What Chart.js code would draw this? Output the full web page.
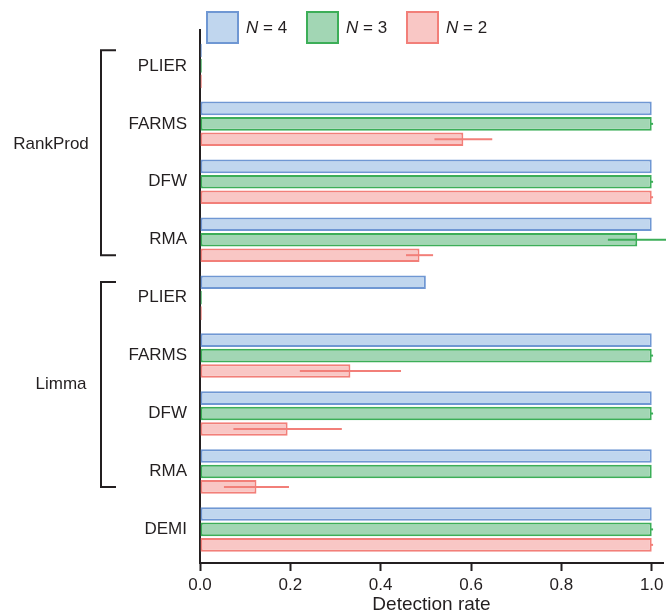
<!DOCTYPE html>
<html>
<head>
<meta charset="utf-8">
<script src="https://cdn.jsdelivr.net/npm/chart.js@4/dist/chart.umd.min.js"></script>
<style>
  html, body { margin: 0; padding: 0; background: #fff; }
  #wrap { width: 666px; height: 615px; position: relative; }
</style>
</head>
<body>
<div id="wrap"><canvas id="c"></canvas></div>
<script>
// categories, top to bottom
const methods = ['PLIER', 'FARMS', 'DFW', 'RMA', 'PLIER', 'FARMS', 'DFW', 'RMA', 'DEMI'];
const groups = [
  { name: 'RankProd', first: 0, last: 3 },
  { name: 'Limma', first: 4, last: 7 }
];
const seriesNames = ['4', '3', '2']; // N =

// detection rate per method
const n4 = [0.004, 1, 1, 1, 0.5, 1, 1, 1, 1];
const n3 = [0.004, 1, 1, 0.968, 0.004, 1, 1, 1, 1];
const n2 = [0.004, 0.583, 1, 0.486, 0.004, 0.333, 0.194, 0.125, 1];
// error (half width)
const n4Err = [0, 0, 0, 0, 0, 0, 0, 0, 0];
const n3Err = [0, 0.003, 0.003, 0.065, 0, 0.003, 0.003, 0, 0.003];
const n2Err = [0, 0.064, 0.003, 0.03, 0, 0.112, 0.12, 0.072, 0.003];

const xTicks = [0, 0.2, 0.4, 0.6, 0.8, 1.0];

const fills = ['#c0d6ee', '#a2d6b4', '#f9c7c5'];
const edges = ['#6f97d3', '#3cae58', '#f27f79'];
const FONT = '"Liberation Sans", Arial, Helvetica, sans-serif';
const INK = '#231f20';

const errs = [n4Err, n3Err, n2Err];

const errorBars = {
  id: 'errorBars',
  afterDatasetsDraw(chart) {
    const ctx = chart.ctx;
    const xs = chart.scales.x;
    chart.data.datasets.forEach((ds, i) => {
      const meta = chart.getDatasetMeta(i);
      meta.data.forEach((bar, j) => {
        const e = errs[i][j];
        if (!e) return;
        const v = ds.data[j].x;
        ctx.save();
        ctx.strokeStyle = edges[i];
        ctx.lineWidth = 2;
        ctx.beginPath();
        ctx.moveTo(xs.getPixelForValue(v - e), bar.y);
        ctx.lineTo(xs.getPixelForValue(v + e), bar.y);
        ctx.stroke();
        ctx.restore();
      });
    });
  }
};

const decorations = {
  id: 'decorations',
  afterDraw(chart) {
    const ctx = chart.ctx;
    const ys = chart.scales.y;
    ctx.save();
    // brackets
    ctx.strokeStyle = INK;
    ctx.lineWidth = 2;
    ctx.fillStyle = INK;
    ctx.font = '17px ' + FONT;
    ctx.textAlign = 'center';
    ctx.textBaseline = 'middle';
    groups.forEach((g, k) => {
      const top = ys.getPixelForValue(g.first - 0.27);
      const bot = ys.getPixelForValue(g.last + 0.27);
      ctx.beginPath();
      ctx.moveTo(116, top);
      ctx.lineTo(101, top);
      ctx.lineTo(101, bot);
      ctx.lineTo(116, bot);
      ctx.stroke();
      const mid = k === 0 ? ys.getPixelForValue(1.35) : (top + bot) / 2;
      ctx.fillText(g.name, k === 0 ? 51 : 61, mid);
    });
    // legend
    ctx.textAlign = 'left';
    seriesNames.forEach((s, i) => {
      const x = 207 + i * 100;
      ctx.fillStyle = fills[i];
      ctx.fillRect(x, 12, 31, 31);
      ctx.strokeStyle = edges[i];
      ctx.lineWidth = 2;
      ctx.strokeRect(x, 12, 31, 31);
      ctx.fillStyle = INK;
      ctx.font = 'italic 17px ' + FONT;
      ctx.fillText('N', x + 39, 28);
      const w = ctx.measureText('N').width;
      ctx.font = '17px ' + FONT;
      ctx.fillText(' = ' + s, x + 39 + w, 28);
    });
    ctx.restore();
  }
};

const sets = [n4, n3, n2].map((vals, i) => ({
  label: 'N = ' + seriesNames[i],
  data: vals.map((v, j) => ({ x: v, y: j })),
  backgroundColor: fills[i],
  borderColor: edges[i],
  borderWidth: 2,
  borderSkipped: false,
  barPercentage: 0.88,
  categoryPercentage: 0.8
}));

new Chart(document.getElementById('c'), {
  type: 'bar',
  data: { datasets: sets },
  options: {
    indexAxis: 'y',
    responsive: true,
    maintainAspectRatio: false,
    animation: false,
    layout: { padding: { top: 30, right: 3, left: 0, bottom: 0 } },
    plugins: { legend: { display: false }, tooltip: { enabled: false } },
    scales: {
      x: {
        type: 'linear',
        min: 0,
        max: 1.025,
        afterBuildTicks: s => { s.ticks = xTicks.map(v => ({ value: v })); },
        afterFit: s => { s.height = 52; s.paddingLeft = 0; s.paddingRight = 0; },
        grid: { drawOnChartArea: false, drawTicks: true, tickLength: 8, tickWidth: 2, tickColor: INK },
        border: { display: true, color: INK, width: 2 },
        ticks: {
          color: INK, padding: 4,
          font: { family: FONT, size: 17 },
          callback: v => v.toFixed(1)
        },
        title: {
          display: true, text: 'Detection rate', color: INK,
          font: { family: FONT, size: 19, lineHeight: 1.1 }, padding: { top: 0, bottom: 0 }
        }
      },
      y: {
        type: 'linear',
        reverse: true,
        offset: false,
        min: -0.62,
        max: 8.58,
        afterBuildTicks: s => { s.ticks = methods.map((m, i) => ({ value: i })); },
        afterFit: s => { s.width = 200; },
        grid: { display: false, drawTicks: false, offset: false },
        border: { display: true, color: INK, width: 2 },
        ticks: {
          color: INK, padding: 13,
          font: { family: FONT, size: 17 },
          callback: v => methods[v]
        }
      }
    }
  },
  plugins: [errorBars, decorations]
});
</script>
</body>
</html>
